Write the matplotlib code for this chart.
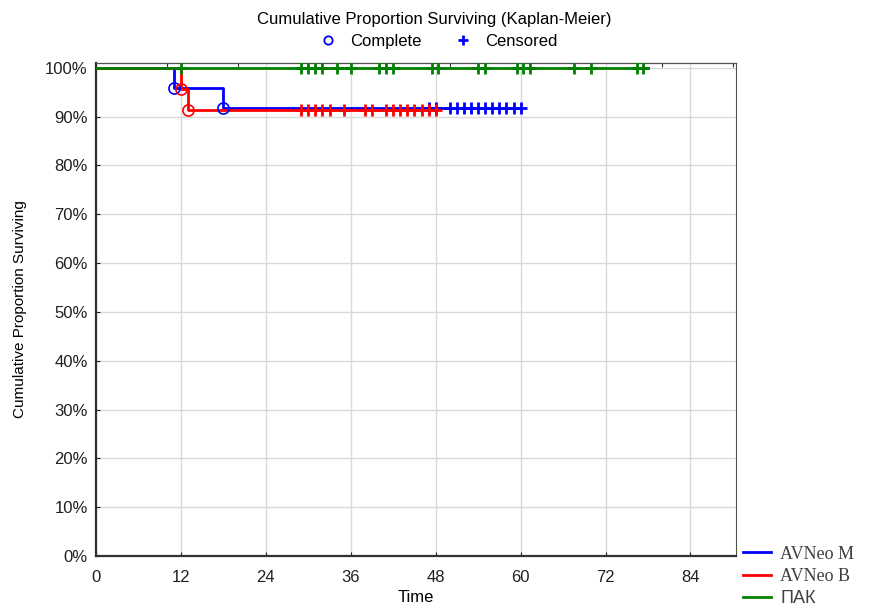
import matplotlib
matplotlib.use("Agg")
import matplotlib.pyplot as plt
import numpy as np
from matplotlib.lines import Line2D
from matplotlib.ticker import PercentFormatter

plt.rcParams["font.family"] = ["Liberation Sans", "DejaVu Sans"]

# Kaplan-Meier curves: times of steps and survival after each step
groups = ["AVNeo M", "AVNeo B", "ПАК"]
colors = ["#0000ff", "#ff0000", "#008000"]

m_time = [0, 11, 18, 60]
m_surv = [1.0, 0.958, 0.917, 0.917]
m_events = [11, 18]
m_event_surv = [0.958, 0.917]
m_cens = [47, 48, 50, 51, 52, 53, 54, 55, 56, 57, 58, 59, 60]

b_time = [0, 12, 13, 48]
b_surv = [1.0, 0.957, 0.913, 0.913]
b_events = [12, 13]
b_event_surv = [0.957, 0.913]
b_cens = [29, 30, 31, 32, 33, 35, 38, 39, 41, 42, 43, 44, 45, 46, 47, 48]

p_time = [0, 78]
p_surv = [1.0, 1.0]
p_events = []
p_event_surv = []
p_cens = [12, 29, 30, 31, 32, 34, 36, 40, 41, 42, 47.5, 48.3, 54, 55,
          59.5, 60.3, 61.3, 67.5, 70, 76.5, 77.3]

xticks = [0, 12, 24, 36, 48, 60, 72, 84]
yticks = np.arange(0, 1.01, 0.1)

series = [
    (m_time, m_surv, m_events, m_event_surv, m_cens),
    (b_time, b_surv, b_events, b_event_surv, b_cens),
    (p_time, p_surv, p_events, p_event_surv, p_cens),
]

fig = plt.figure(figsize=(8.69, 6.11), dpi=100)
ax = fig.add_axes([0.1105, 0.09, 0.737, 0.807])

for (t, s, ev, evs, cens), c in zip(series, colors):
    ax.step(t, s, where="post", color=c, lw=2, zorder=3)
    # survival at censoring times
    cs = [s[np.searchsorted(t, x, side="right") - 1] for x in cens]
    ax.plot(cens, cs, ls="none", marker="+", ms=9, mew=2, color=c, zorder=4)
    if ev:
        ax.plot(ev, evs, ls="none", marker="o", ms=8, mfc="none", mew=1.2,
                color=c, zorder=4)

ax.set_xlim(0, 90.5)
ax.set_ylim(0, 1.01)
ax.set_xticks(xticks)
ax.set_yticks(yticks)
ax.yaxis.set_major_formatter(PercentFormatter(1.0, decimals=0))
ax.grid(True, color="#d9d9d9", lw=1)
ax.set_axisbelow(True)
ax.tick_params(direction="in", length=3, labelsize=12, colors="#202020")
ax.tick_params(axis="x", pad=10)
ax.tick_params(axis="y", pad=6)
for sp in ["left", "bottom"]:
    ax.spines[sp].set_linewidth(1.6)
    ax.spines[sp].set_color("#303030")
ax.spines["top"].set_color("#505050")
ax.spines["right"].set_color("#505050")

# small ticks along the top
top = ax.secondary_xaxis("top")
top.set_xticks(np.arange(10, 91, 10))
top.tick_params(direction="in", length=3, labeltop=False, colors="#303030")

ax.set_xlabel("Time", fontsize=12, labelpad=4)
ax.set_ylabel("Cumulative Proportion Surviving", fontsize=11, labelpad=13)

fig.text(0.5, 0.968, "Cumulative Proportion Surviving (Kaplan-Meier)",
         ha="center", va="center", fontsize=12)
top_handles = [
    Line2D([], [], ls="none", marker="o", mfc="none", color="#0000ff", ms=6, mew=1.3),
    Line2D([], [], ls="none", marker="+", color="#0000ff", ms=7, mew=2),
]
fig.legend(top_handles, ["Complete", "Censored"], loc="center",
           bbox_to_anchor=(0.5, 0.932), ncol=2, frameon=False, fontsize=12,
           handletextpad=0.3, columnspacing=1.5)

grp_handles = [Line2D([], [], color=c, lw=2) for c in colors]
leg = fig.legend(grp_handles, groups, loc="lower left",
                 bbox_to_anchor=(0.842, -0.012), frameon=False, fontsize=13,
                 handlelength=1.6, labelspacing=0.3, handletextpad=0.5,
                 borderaxespad=0.2)
for txt, fam in zip(leg.get_texts(), ["Liberation Serif", "Liberation Serif", "Liberation Sans"]):
    txt.set_fontfamily(fam)
    txt.set_color("#404040")

fig.savefig("out.png", dpi=100)
